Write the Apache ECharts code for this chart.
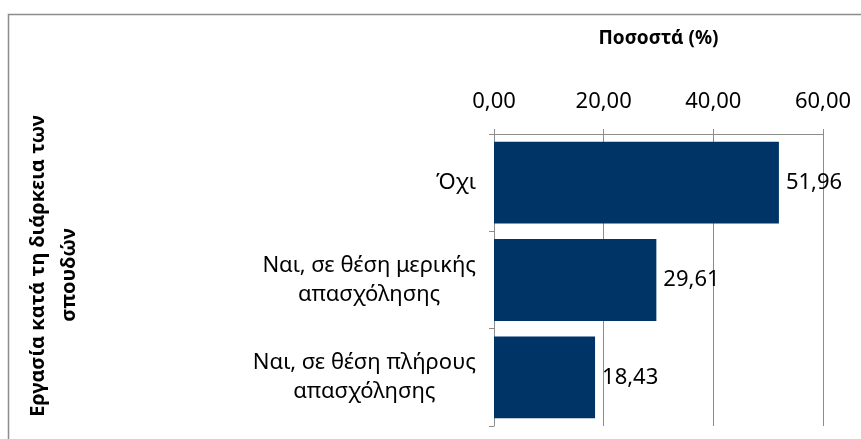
<!DOCTYPE html>
<html>
<head>
<meta charset="utf-8">
<script src="https://cdn.jsdelivr.net/npm/echarts@6/dist/echarts.min.js"></script>
<style>html,body{margin:0;padding:0;background:#fff}#c{width:861px;height:439px}</style>
</head>
<body>
<div id="c"></div>
<script>
const categories = ['Όχι', 'Ναι, σε θέση μερικής\nαπασχόλησης', 'Ναι, σε θέση πλήρους\nαπασχόλησης'];
const values = [51.96, 29.61, 18.43];
const xTicks = [0, 20, 40, 60];
const xTitle = 'Ποσοστά (%)';
const yTitleLines = ['Εργασία κατά τη διάρκεια των', 'σπουδών'];

const fmt = v => v.toFixed(2).replace('.', ',');
const FONT = 'Noto Sans';
const titleFont = 'bold 20px "' + FONT + '"';
const chart = echarts.init(document.getElementById('c'), null, {renderer: 'canvas'});
chart.setOption({
  animation: false,
  backgroundColor: '#fff',
  grid: {left: 494, right: 38, top: 134, bottom: 13, containLabel: false},
  graphic: [
    {type: 'rect', shape: {x: 8.5, y: 14.5, width: 900, height: 500}, style: {fill: 'none', stroke: '#8c8c8c', lineWidth: 1.5}, z: 0},
    {type: 'text', x: 38, y: 266, rotation: Math.PI / 2,
     style: {text: yTitleLines[0], font: titleFont, fill: '#000', align: 'center', verticalAlign: 'middle'}},
    {type: 'text', x: 69, y: 275, rotation: Math.PI / 2,
     style: {text: yTitleLines[1], font: titleFont, fill: '#000', align: 'center', verticalAlign: 'middle'}}
  ],
  xAxis: {
    type: 'value', position: 'top', min: xTicks[0], max: xTicks[xTicks.length - 1], interval: xTicks[1] - xTicks[0],
    name: xTitle, nameLocation: 'middle', nameGap: 86,
    nameTextStyle: {fontFamily: FONT, fontWeight: 'bold', fontSize: 19, color: '#000'},
    axisLine: {show: true, lineStyle: {color: '#8c8c8c', width: 1}},
    axisTick: {show: true, length: 5, lineStyle: {color: '#8c8c8c'}},
    axisLabel: {formatter: v => fmt(v), fontFamily: FONT, fontSize: 22, color: '#000', margin: 21},
    splitLine: {show: true, lineStyle: {color: '#8c8c8c', width: 1}}
  },
  yAxis: {
    type: 'category', inverse: true, data: categories,
    axisLine: {show: true, lineStyle: {color: '#8c8c8c', width: 1}},
    axisTick: {show: true, length: 5, lineStyle: {color: '#8c8c8c'}},
    axisLabel: {
      fontFamily: FONT, fontSize: 22, color: '#000', margin: 18, lineHeight: 29, align: 'right',
      formatter: v => v.split('\n').map(s => '{c|' + s + '}').join('\n'),
      rich: {c: {align: 'center', fontFamily: FONT, fontSize: 22, lineHeight: 29, color: '#000'}}
    }
  },
  series: [{
    type: 'bar', data: values, barCategoryGap: '16%',
    itemStyle: {color: '#003366'},
    label: {show: true, position: 'right', distance: 7, formatter: p => fmt(p.value), fontFamily: FONT, fontSize: 22, color: '#000'}
  }]
});
</script>
</body>
</html>
